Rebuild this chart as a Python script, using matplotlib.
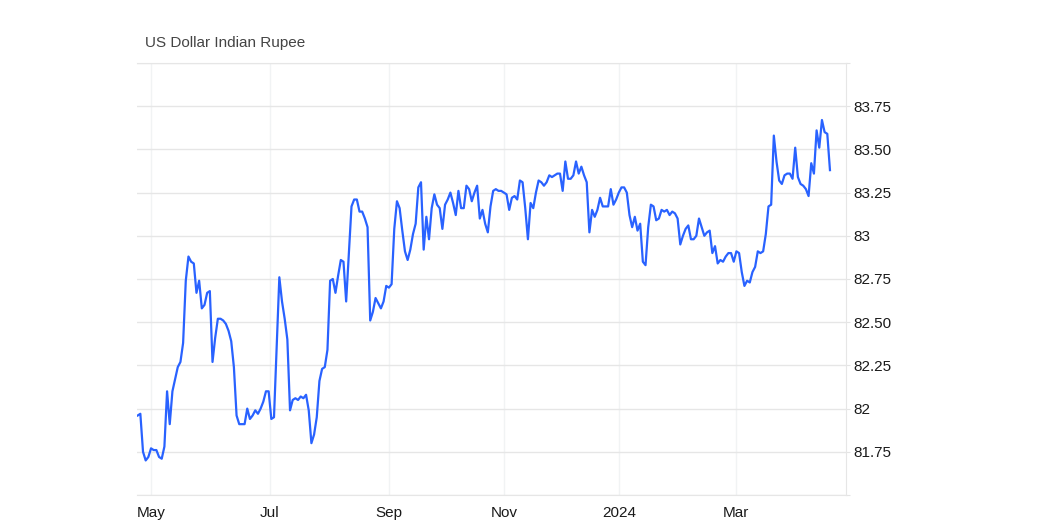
import matplotlib
matplotlib.use("Agg")
import matplotlib.pyplot as plt
import numpy as np
import pandas as pd

plt.rcParams['font.family'] = ['Liberation Sans', 'DejaVu Sans']

# daily USD/INR closes, one per business day from 24 Apr 2023
start_date = "2023-04-24"
rate = [
    81.96, 81.97, 81.75, 81.70, 81.72, 81.77, 81.76, 81.76, 81.72, 81.71,
    81.78, 82.10, 81.91, 82.10, 82.17, 82.24, 82.27, 82.38, 82.74, 82.88,
    82.85, 82.84, 82.67, 82.74, 82.58, 82.60, 82.67, 82.68, 82.27, 82.41,
    82.52, 82.52, 82.51, 82.49, 82.45, 82.39, 82.24, 81.96, 81.91, 81.91,
    81.91, 82.00, 81.94, 81.96, 81.99,
    81.97, 82.00, 82.04, 82.10, 82.10, 81.94, 81.95, 82.36, 82.76, 82.62,
    82.52, 82.40, 81.99, 82.05, 82.06, 82.05, 82.07, 82.06, 82.08, 81.99,
    81.80, 81.85, 81.95, 82.16, 82.23, 82.24, 82.34, 82.74, 82.75, 82.67,
    82.77, 82.86, 82.85, 82.62, 82.89, 83.17, 83.21, 83.21, 83.14, 83.14,
    83.10, 83.05, 82.51, 82.56, 82.64,
    82.61, 82.58, 82.62, 82.71, 82.70, 82.72, 83.04, 83.20, 83.16, 83.03,
    82.91, 82.86, 82.92, 83.01, 83.07, 83.28, 83.31, 82.92, 83.11, 82.98,
    83.16, 83.24, 83.18, 83.16, 83.04, 83.18, 83.21, 83.25, 83.19, 83.12,
    83.26, 83.16, 83.16, 83.29, 83.27, 83.20, 83.25, 83.29, 83.10, 83.15,
    83.07, 83.02, 83.17, 83.26, 83.27,
    83.26, 83.26, 83.25, 83.24, 83.15, 83.22, 83.23, 83.21, 83.32, 83.31,
    83.16, 82.98, 83.19, 83.16, 83.25, 83.32, 83.31, 83.29, 83.31, 83.35,
    83.34, 83.35, 83.36, 83.36, 83.26, 83.43, 83.33, 83.33, 83.35, 83.43,
    83.36, 83.40, 83.35, 83.31, 83.02, 83.15, 83.11, 83.15, 83.22, 83.17,
    83.17, 83.17, 83.27, 83.18, 83.21,
    83.25, 83.28, 83.28, 83.25, 83.12, 83.05, 83.11, 83.03, 83.07, 82.85,
    82.83, 83.05, 83.18, 83.17, 83.09, 83.10, 83.15, 83.14, 83.15, 83.12,
    83.14, 83.13, 83.10, 82.95, 83.00, 83.04, 83.06, 82.98, 82.98, 83.00,
    83.10, 83.05, 83.00, 83.02, 83.03, 82.90, 82.94, 82.84, 82.86, 82.85,
    82.88, 82.90, 82.90, 82.85,
    82.91, 82.90, 82.79, 82.71, 82.74, 82.73, 82.79, 82.82, 82.91, 82.90,
    82.91, 83.01, 83.17, 83.18, 83.58, 83.43, 83.32, 83.30, 83.35, 83.36,
    83.36, 83.33, 83.51, 83.34, 83.30, 83.29, 83.27, 83.23, 83.42, 83.36,
    83.61, 83.51, 83.67, 83.60, 83.59, 83.38,
]
dates = pd.bdate_range(start_date, periods=len(rate))

tick_dates = pd.to_datetime(["2023-05-01", "2023-07-01", "2023-09-01",
                             "2023-11-01", "2024-01-01", "2024-03-01"])
x_labels = ["May", "Jul", "Sep", "Nov", "2024", "Mar"]
y_ticks = [81.5, 81.75, 82, 82.25, 82.5, 82.75, 83, 83.25, 83.5, 83.75, 84]
y_labels = ["", "81.75", "82", "82.25", "82.50", "82.75", "83", "83.25",
            "83.50", "83.75", ""]

# trading-day axis: points evenly spaced, ticks placed by calendar date
idx = np.arange(len(rate))
tick_pos = np.interp(tick_dates.values.astype("int64"),
                     dates.values.astype("int64"), idx)

fig = plt.figure(figsize=(10.52, 5.3), dpi=100)
ax = fig.add_axes([137/1052, 35/530, 709/1052, 432/530])

ax.plot(idx, rate, color="#2962ff", lw=1.6, zorder=3)

ax.set_xlim(-0.25, 265)
ax.set_ylim(81.5, 84.0)
ax.set_xticks(tick_pos)
ax.set_xticklabels(x_labels)
ax.set_yticks(y_ticks)
ax.set_yticklabels(y_labels)

ax.yaxis.tick_right()
ax.tick_params(axis="y", length=3, color="#e4e4e4", pad=2, labelsize=11,
               labelcolor="#1a1a1a")
ax.tick_params(axis="x", length=0, pad=8, labelsize=11, labelcolor="#1a1a1a")

ax.grid(axis="y", color="#e6e6e6", lw=1)
ax.grid(axis="x", color="#f1f3f4", lw=1)
for side in ["top", "bottom", "right"]:
    ax.spines[side].set_color("#e6e6e6")
ax.spines["left"].set_visible(False)

fig.text(145/1052, 1 - 43/530, "US Dollar Indian Rupee", ha="left",
         va="center", fontsize=11, color="#444444")

fig.savefig("out.png", dpi=100)
